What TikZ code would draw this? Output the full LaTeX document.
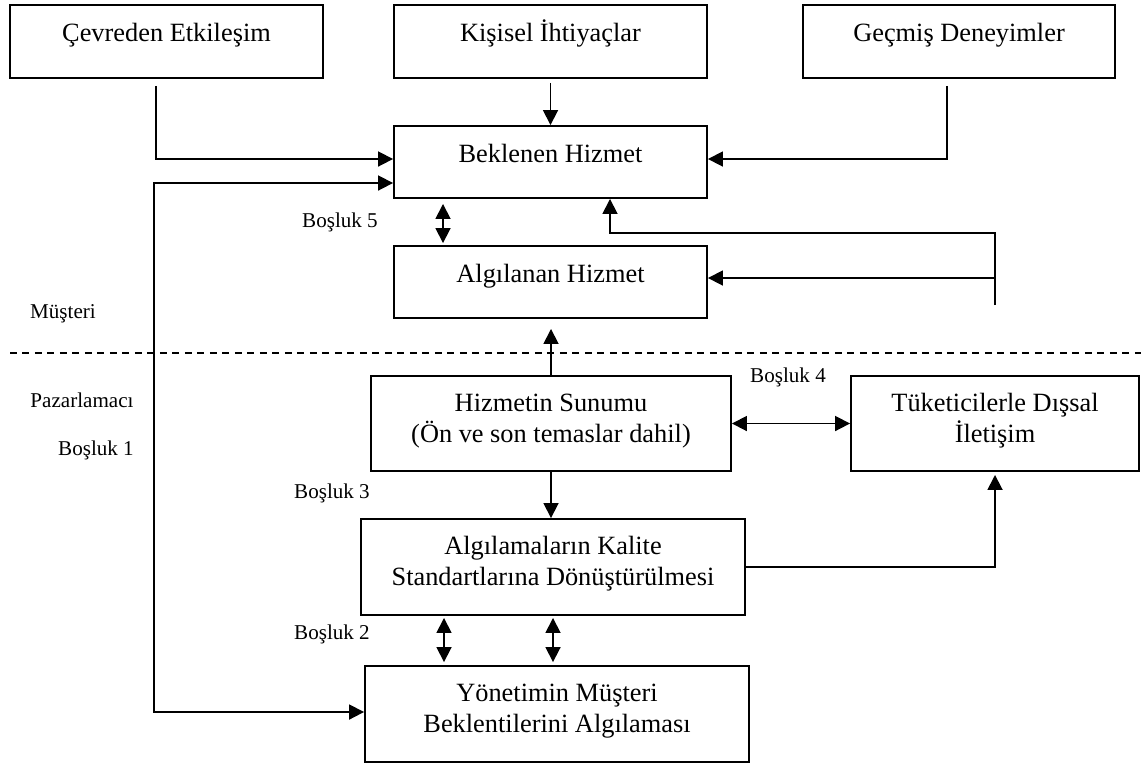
\documentclass[tikz,border=0pt]{standalone}
\usepackage{fontspec}
\setmainfont{Liberation Serif}
\usetikzlibrary{arrows.meta,calc}
\tikzset{
  kutu/.style={draw,line width=1.1pt,inner sep=0pt,align=center,text height=11pt,text depth=11pt,font=\fontsize{15}{17.6}\selectfont},
  kutuiki/.style={kutu,text height=28.6pt,text depth=7.4pt},
  etiket/.style={inner sep=0pt,font=\fontsize{12}{14}\selectfont},
}
\begin{document}
\begin{tikzpicture}[x=0.02cm,y=-0.02cm,line width=1pt,>={Triangle[length=0.3cm,width=0.3cm]}]
			\useasboundingbox (0,0) rectangle (1141,765);
			\node[kutu,minimum width=6.26cm,minimum height=1.46cm] (cevre) at (166.5,41.5) {Çevreden Etkileşim};
			\node[kutu,minimum width=6.26cm,minimum height=1.46cm] (kisisel) at (550.5,41.5) {Kişisel İhtiyaçlar};
			\node[kutu,minimum width=6.24cm,minimum height=1.46cm] (gecmis) at (959,41.5) {Geçmiş Deneyimler};
			\node[kutu,minimum width=6.26cm,minimum height=1.44cm] (beklenen) at (550.5,162) {Beklenen Hizmet};
			\node[kutu,minimum width=6.26cm,minimum height=1.44cm] (algilanan) at (550.5,282) {Algılanan Hizmet};
			\node[kutuiki,minimum width=7.2cm,minimum height=1.9cm] (sunum) at (551,423.5) {Hizmetin Sunumu\\(Ön ve son temaslar dahil)};
			\node[kutuiki,minimum width=5.76cm,minimum height=1.9cm] (iletisim) at (995,423.5) {Tüketicilerle Dışsal\\İletişim};
			\node[kutuiki,minimum width=7.68cm,minimum height=1.92cm] (standart) at (553,567) {Algılamaların Kalite\\Standartlarına Dönüştürülmesi};
			\node[kutuiki,minimum width=7.68cm,minimum height=1.92cm] (yonetim) at (557,714) {Yönetimin Müşteri\\Beklentilerini Algılaması};
			\node[etiket] (b5) at (340,222) {Boşluk 5};
			\node[etiket] (musteri) at (63,314) {Müşteri};
			\node[etiket] (pazar) at (82,400) {Pazarlamacı};
			\node[etiket] (b1) at (96,450) {Boşluk 1};
			\node[etiket] (b4) at (788,377) {Boşluk 4};
			\node[etiket] (b3) at (332,493) {Boşluk 3};
			\node[etiket] (b2) at (332,634) {Boşluk 2};
			\coordinate (sol) at (154,450);
			\coordinate (geri) at (995,305);
			\coordinate (geriust) at (995,233);
			\coordinate (gerimid) at (995,278);
			\draw[dash pattern=on 0.14cm off 0.11cm] (10,353)--(1141,353);
			\draw[->,shorten <=0.08cm] (kisisel.south)--(kisisel.south |- beklenen.north);
			\draw[->] ([shift={(-10.5,7)}]cevre.south) |- ($(beklenen.west)+(0,-3)$);
			\draw[->] ([shift={(-12,7)}]gecmis.south) |- ($(beklenen.east)+(0,-3)$);
			\draw[<->] ($(beklenen.west)+(0,21)$) -| (sol) |- ($(yonetim.west)+(0,-2)$);
			\draw[<->,shorten <=0.1cm,shorten >=0.04cm] ($(beklenen.south)+(-107.5,0)$)--($(algilanan.north)+(-107.5,0)$);
			\draw[->] (geri)--(geriust) -| ($(beklenen.south)+(59.5,0)$);
			\draw[->] (gerimid)--(algilanan.east |- gerimid);
			\draw[->,shorten >=0.2cm] (sunum.north)--(sunum.north |- algilanan.south);
			\draw[<->] (sunum)--(iletisim);
			\draw[->] (sunum.south)--(sunum.south |- standart.north);
			\draw[->,shorten >=0.06cm] (standart.east) -| (iletisim.south);
			\draw[<->,shorten <=0.04cm,shorten >=0.06cm] ($(standart.south)+(-109,0)$)--($(yonetim.north)+(-113,0)$);
			\draw[<->,shorten <=0.04cm,shorten >=0.06cm] (standart.south)--($(yonetim.north)+(-4,0)$);
		\end{tikzpicture}
\end{document}
